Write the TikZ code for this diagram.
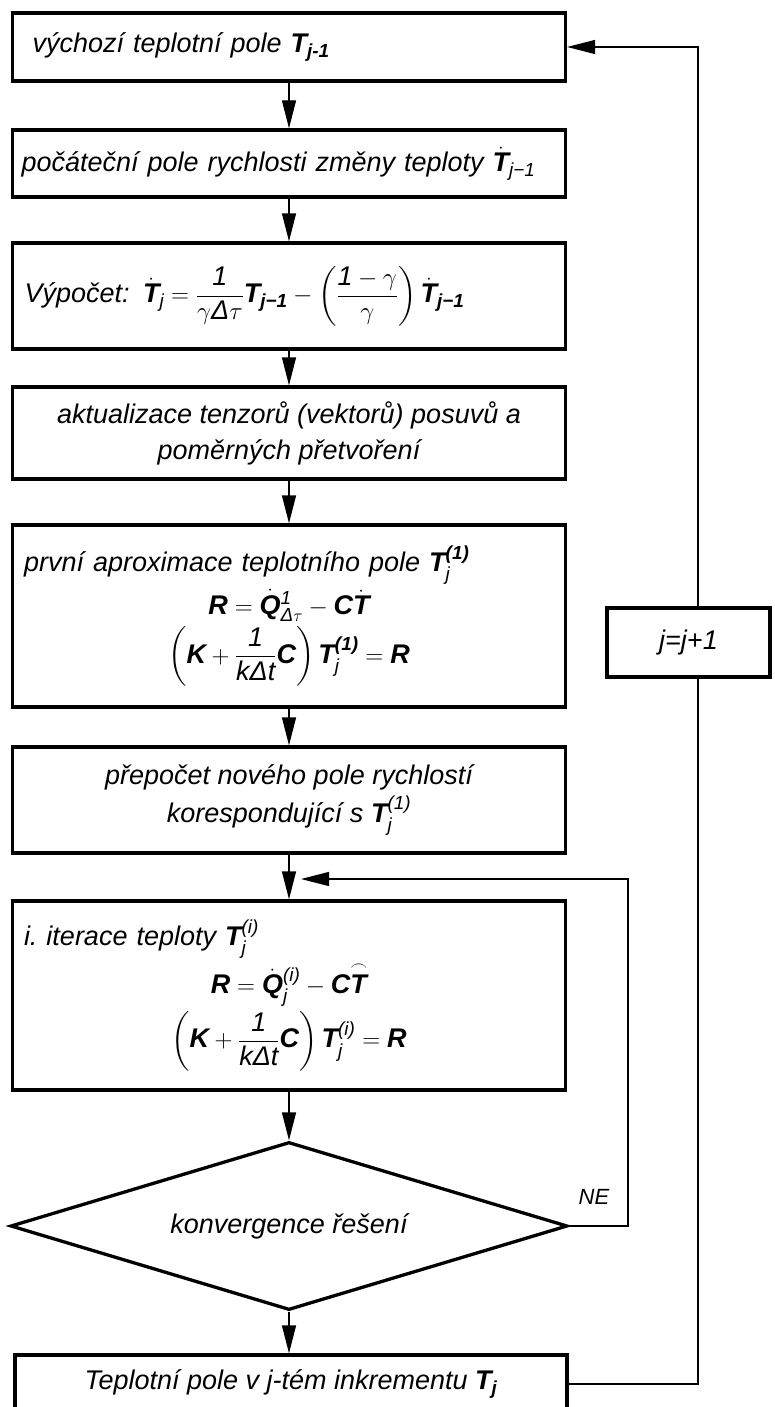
\documentclass[tikz,border=0pt]{standalone}
\usepackage{amsmath}
\usepackage{fontspec}
\setmainfont{Liberation Sans}
\usetikzlibrary{shapes.geometric,arrows.meta}

\newcommand{\bv}[1]{\text{\bfseries\itshape #1}}
\newcommand{\ti}[1]{\text{\itshape #1}}
\newcommand{\radek}[1]{\makebox[530pt]{#1}}

\tikzset{
	blok/.style={draw, line width=3.3pt, minimum width=553pt, inner sep=0pt},
	kosoctverec/.style={draw, diamond, line width=3.3pt, shape aspect=3.3, minimum width=557pt, minimum height=168pt, inner sep=0pt},
	sipka/.style={line width=1.3pt, -{Triangle[length=28pt,width=14pt]}},
	cara/.style={line width=1.3pt},
}

\begin{document}
\begin{tikzpicture}[x=1pt, y=-1pt, font=\fontsize{27}{32}\selectfont\itshape]
	\useasboundingbox (0,0) rectangle (774,1407);
	% hlavni sloupec
	\node[blok, minimum height=68pt, text width=513pt, align=left] (b1) at (289,47) {výchozí teplotní pole $\bv{T}_{\bv{j-1}}$};
	\node[blok, minimum height=67pt, text width=535pt, align=left] (b2) at (289,163.5) {počáteční pole rychlosti změny teploty $\dot{\bv{T}}_{\ti{j−1}}$};
	\node[blok, minimum height=106pt, text width=529pt, align=left] (b3) at (289,296) {Výpočet: $\dot{\bv{T}}_{\ti{j}} = \dfrac{\ti{1}}{\gamma\ti{Δ}\tau}\bv{T}_{\bv{j−1}} - \left(\dfrac{\ti{1}-\gamma}{\gamma}\right)\dot{\bv{T}}_{\bv{j−1}}$};
	\node[blok, minimum height=92pt, align=center] (b4) at (289,433) {aktualizace tenzorů (vektorů) posuvů a\\[4pt] poměrných přetvoření};
	\node[blok, minimum height=182pt, text width=530pt, align=left] (b5) at (289,616) {první aproximace teplotního pole $\bv{T}_{\ti{j}}^{\bv{(1)}}$\\[4pt]
		\radek{$\bv{R} = \dot{\bv{Q}}{}^{\ti{1}}_{\ti{Δ}\tau} - \bv{C}\dot{\bv{T}}$}\\[4pt]
		\radek{$\left(\bv{K} + \dfrac{\ti{1}}{\ti{kΔt}}\bv{C}\right)\bv{T}_{\ti{j}}^{\bv{(1)}} = \bv{R}$}};
	\node[blok, minimum height=106pt, align=center] (b6) at (289,800) {přepočet nového pole rychlostí\\[6pt] korespondující s $\bv{T}_{\ti{j}}^{\ti{(1)}}$};
	\node[blok, minimum height=189pt, text width=530pt, align=left] (b7) at (289,995.5) {i.\ iterace teploty $\bv{T}_{\ti{j}}^{\ti{(i)}}$\\[2pt]
		\radek{$\bv{R} = \dot{\bv{Q}}{}_{\ti{j}}^{\ti{(i)}} - \bv{C}\overset{\frown}{\bv{T}}$}\\[4pt]
		\radek{$\left(\bv{K} + \dfrac{\ti{1}}{\ti{kΔt}}\bv{C}\right)\bv{T}_{\ti{j}}^{\ti{(i)}} = \bv{R}$}};
	\node[kosoctverec] (dec) at (289,1226) {konvergence řešení};
	\node[font=\fontsize{22}{26}\selectfont\itshape] (ne) at (594,1197) {NE};
	\node[blok, minimum height=58pt, minimum width=552pt] (b8) at (291,1384) {Teplotní pole v j-tém inkrementu $\bv{T}_{\bv{j}}$};
	% cyklus
	\node[blok, minimum width=163pt, minimum height=69pt] (jj) at (688.5,642.5) {j=j+1};
	\coordinate (spoj) at (301,879);
	\coordinate (nex) at (628,879);
	\coordinate (rx) at (698,0);
	% spojnice
	\draw[sipka] (b1) -- (b2);
	\draw[sipka] (b2) -- (b3);
	\draw[sipka] (b3) -- (b4);
	\draw[sipka] (b4) -- (b5);
	\draw[sipka] (b5) -- (b6);
	\draw[sipka] (b6) -- (b7);
	\draw[sipka] (b7) -- (dec);
	\draw[sipka] (dec) -- (b8.north -| dec);
	\draw[sipka] (dec.east) -| (nex) -- (spoj);
	\draw[cara] (b8.east) -| (rx |- jj.south);
	\draw[sipka] (rx |- jj.north) |- (b1.east);
\end{tikzpicture}
\end{document}
